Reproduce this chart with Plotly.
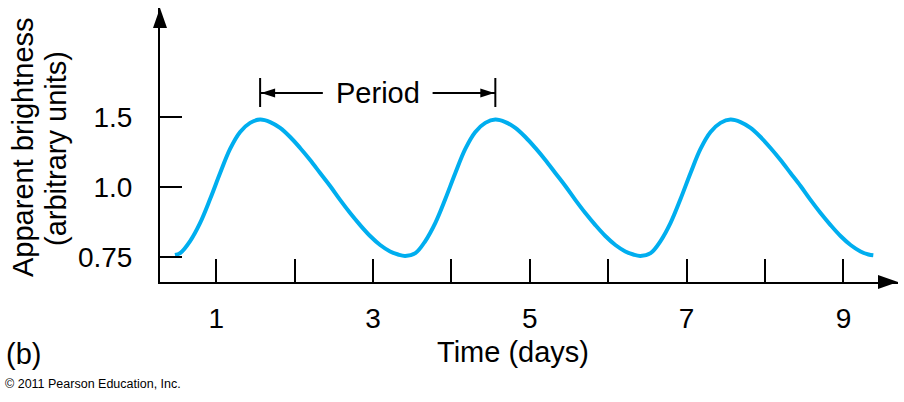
import numpy as np
import plotly.graph_objects as go

# ---- data ----
days = [0.474, 0.540, 0.667, 0.795, 0.922, 1.050, 1.177, 1.305, 1.432, 1.560,
        1.688, 1.815, 1.943, 2.070, 2.198, 2.325, 2.453, 2.580, 2.708, 2.836,
        2.963, 3.091, 3.218, 3.320, 3.410,
        3.540, 3.667, 3.795, 3.922, 4.050, 4.177, 4.305, 4.432, 4.560,
        4.688, 4.815, 4.943, 5.070, 5.198, 5.325, 5.453, 5.580, 5.708, 5.836,
        5.963, 6.091, 6.218, 6.320, 6.410,
        6.540, 6.667, 6.795, 6.922, 7.050, 7.177, 7.305, 7.432, 7.560,
        7.688, 7.815, 7.943, 8.070, 8.198, 8.325, 8.453, 8.580, 8.708, 8.836,
        8.963, 9.091, 9.218, 9.320, 9.381]
brightness = [0.758, 0.765, 0.808, 0.873, 0.958, 1.102, 1.274, 1.395, 1.460, 1.484,
              1.466, 1.424, 1.359, 1.281, 1.195, 1.102, 1.009, 0.955, 0.908, 0.865,
              0.826, 0.794, 0.771, 0.760, 0.755,
              0.765, 0.808, 0.873, 0.958, 1.102, 1.274, 1.395, 1.460, 1.484,
              1.466, 1.424, 1.359, 1.281, 1.195, 1.102, 1.009, 0.955, 0.908, 0.865,
              0.826, 0.794, 0.771, 0.760, 0.755,
              0.765, 0.808, 0.873, 0.958, 1.102, 1.274, 1.395, 1.460, 1.484,
              1.466, 1.424, 1.359, 1.281, 1.195, 1.102, 1.009, 0.955, 0.908, 0.865,
              0.826, 0.794, 0.771, 0.760, 0.757]

x_tick_vals = [1, 2, 3, 4, 5, 6, 7, 8, 9]
x_tick_text = ["1", "", "3", "", "5", "", "7", "", "9"]
y_tick_values = [0.75, 1.0, 1.5]
y_tick_text = ["0.75", "1.0", "1.5"]
period_start = 1.56
period_end = 4.56

# the drawn brightness axis is evenly spaced between its labelled ticks
y_tick_pos = list(range(len(y_tick_values)))
y_pos = np.interp(brightness, y_tick_values, y_tick_pos)

FONT = "Liberation Sans, Arial, Helvetica, sans-serif"
BLUE = "#00AEEF"
W, H = 904, 402
ML, MR, MT, MB = 160, 6, 8, 120
PW, PH = W - ML - MR, H - MT - MB


def px(xp):
    return (xp - ML) / PW


def py(yp):
    return (H - MB - yp) / PH


fig = go.Figure()
fig.add_trace(go.Scatter(x=days, y=y_pos, mode="lines",
                         line=dict(color=BLUE, width=4, shape="spline", smoothing=1.0),
                         hoverinfo="skip", showlegend=False))

fig.update_layout(
    width=W, height=H,
    margin=dict(l=ML, r=MR, t=MT, b=MB),
    paper_bgcolor="white", plot_bgcolor="white",
    font=dict(family=FONT, size=28, color="black"),
    xaxis=dict(range=[0.283, 9.696], showgrid=False, zeroline=False,
               showline=True, linecolor="black", linewidth=2,
               ticks="inside", ticklen=23, tickwidth=2, tickcolor="black",
               tickvals=x_tick_vals, ticktext=x_tick_text,
               tickfont=dict(size=28), ticklabelstandoff=10),
    yaxis=dict(range=[-0.353, 3.561], showgrid=False, zeroline=False,
               showline=True, linecolor="black", linewidth=2,
               ticks="inside", ticklen=22, tickwidth=2, tickcolor="black",
               tickvals=y_tick_pos, ticktext=y_tick_text,
               tickfont=dict(size=28), ticklabelstandoff=20),
)

# axis arrowheads
fig.add_shape(type="path", xref="paper", yref="paper", xsizemode="pixel", ysizemode="pixel",
              xanchor=1, yanchor=0, path="M0,0 L-20,7 L-20,-7 Z",
              fillcolor="black", line=dict(width=0))
fig.add_shape(type="path", xref="paper", yref="paper", xsizemode="pixel", ysizemode="pixel",
              xanchor=0, yanchor=1, path="M0,0 L-7,-20 L7,-20 Z",
              fillcolor="black", line=dict(width=0))

# Period marker
bar_lo, bar_hi, arr_y = 2.147, 2.561, 2.347
mid = (period_start + period_end) / 2
gap = 0.70
for xb in (period_start, period_end):
    fig.add_shape(type="line", xref="x", yref="y", x0=xb, x1=xb, y0=bar_lo, y1=bar_hi,
                  line=dict(color="black", width=2))
fig.add_shape(type="line", xref="x", yref="y", x0=period_start, x1=mid - gap, y0=arr_y, y1=arr_y,
              line=dict(color="black", width=2))
fig.add_shape(type="line", xref="x", yref="y", x0=mid + gap, x1=period_end, y0=arr_y, y1=arr_y,
              line=dict(color="black", width=2))
fig.add_shape(type="path", xref="x", yref="y", xsizemode="pixel", ysizemode="pixel",
              xanchor=period_start, yanchor=arr_y, path="M1,0 L15,4.5 L15,-4.5 Z",
              fillcolor="black", line=dict(width=0))
fig.add_shape(type="path", xref="x", yref="y", xsizemode="pixel", ysizemode="pixel",
              xanchor=period_end, yanchor=arr_y, path="M-1,0 L-15,4.5 L-15,-4.5 Z",
              fillcolor="black", line=dict(width=0))
fig.add_annotation(x=mid, y=arr_y, xref="x", yref="y", text="Period", showarrow=False,
                   font=dict(size=29), xanchor="center", yanchor="middle")

# titles and notes
fig.add_annotation(x=px(513), y=py(352), xref="paper", yref="paper", text="Time (days)",
                   showarrow=False, font=dict(size=29), xanchor="center", yanchor="middle")
fig.add_annotation(x=px(23), y=py(147), xref="paper", yref="paper", text="Apparent brightness",
                   showarrow=False, font=dict(size=29), textangle=-90,
                   xanchor="center", yanchor="middle")
fig.add_annotation(x=px(56), y=py(149), xref="paper", yref="paper", text="(arbitrary units)",
                   showarrow=False, font=dict(size=29), textangle=-90,
                   xanchor="center", yanchor="middle")
fig.add_annotation(x=px(4), y=py(354), xref="paper", yref="paper", text="(b)",
                   showarrow=False, font=dict(size=29), xanchor="left", yanchor="middle")
fig.add_annotation(x=px(3), y=py(384), xref="paper", yref="paper",
                   text="© 2011 Pearson Education, Inc.",
                   showarrow=False, font=dict(size=12.5), xanchor="left", yanchor="middle")

fig.write_html("out.html", config={"displayModeBar": False},
               post_script="document.body.style.margin='0px';")
